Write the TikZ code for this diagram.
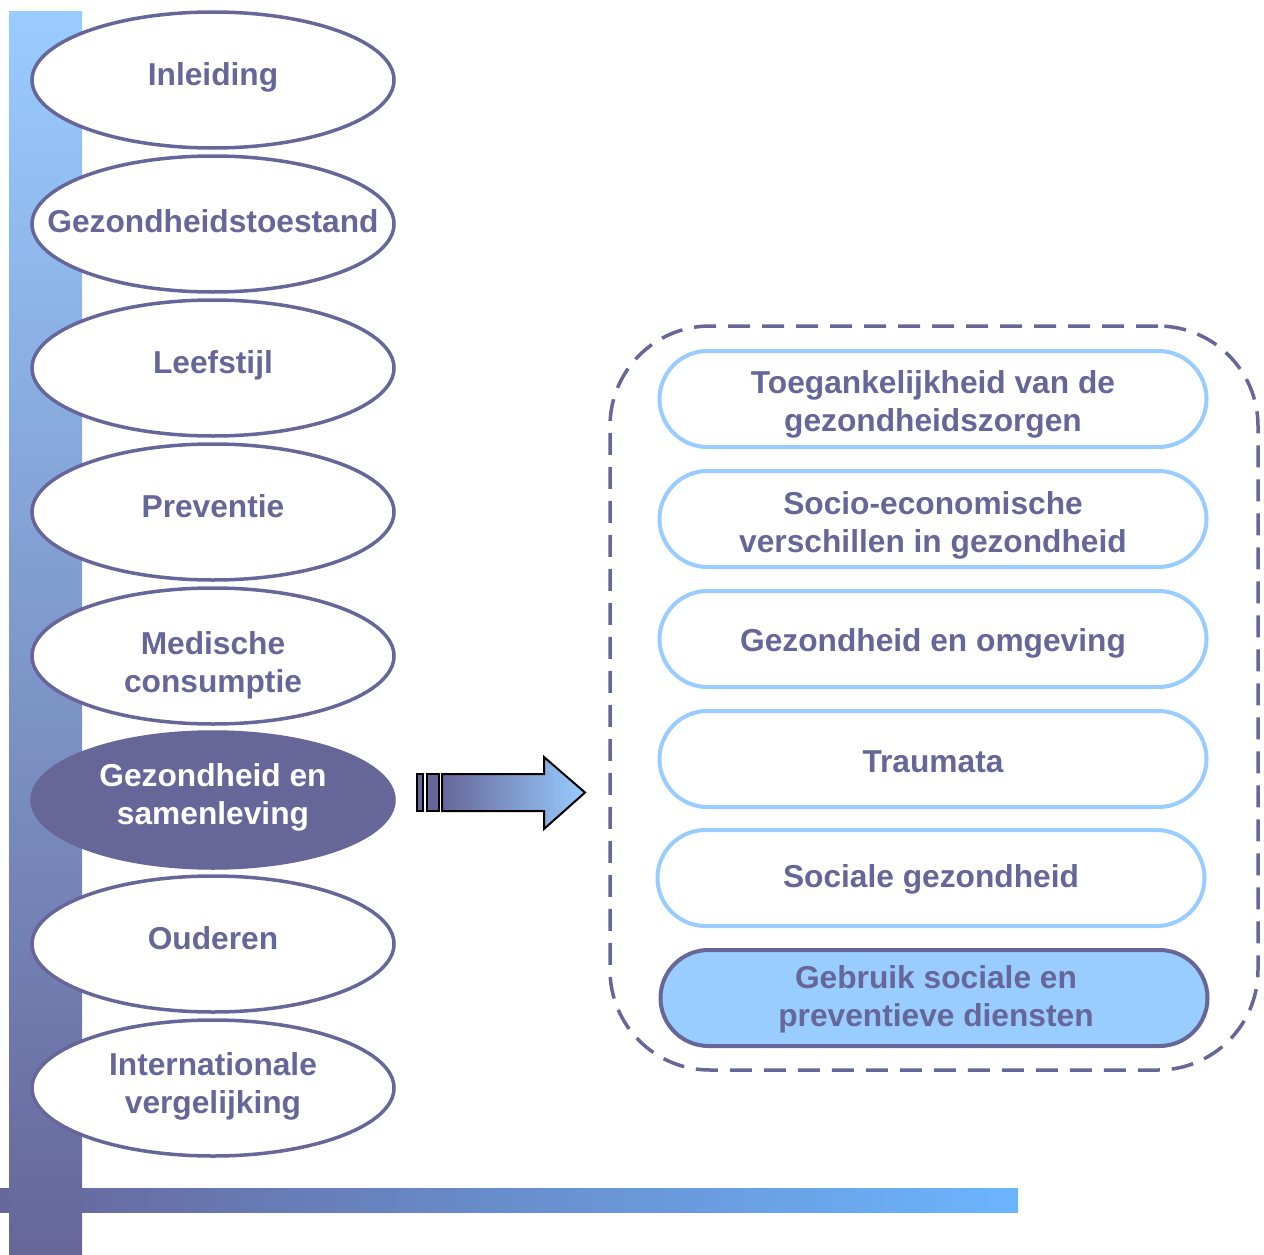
\documentclass[tikz,border=0pt]{standalone}
\usepackage{fontspec}
\setmainfont{Liberation Sans}
\usetikzlibrary{shapes.geometric}
\definecolor{navy}{HTML}{666699}
\definecolor{sky}{HTML}{99CCFF}
\definecolor{skybar}{HTML}{6BB5FF}
\begin{document}
\begin{tikzpicture}[x=1pt,y=-1pt,
  ell/.style={ellipse, draw=navy, line width=3.5pt, fill=white, minimum width=362pt, minimum height=136pt, inner sep=0pt},
  etxt/.style={text=navy, font=\fontsize{31.7}{38}\selectfont\bfseries, align=center, inner sep=0pt},
  pill/.style={rectangle, rounded corners=48pt, draw=sky, line width=4pt, fill=white, minimum width=547pt, minimum height=96pt, inner sep=0pt},
  frame/.style={rectangle, rounded corners=100pt, draw=navy, line width=3.5pt, dash pattern=on 22pt off 12pt, minimum width=648pt, minimum height=744pt, inner sep=0pt},
  arrowline/.style={draw=black, line width=2pt}
]
\useasboundingbox (0,0) rectangle (1264,1255);
% bars
\shade[left color=navy, right color=skybar] (0,1188) rectangle (1018,1212);
\shade[top color=sky, bottom color=navy] (9,12) rectangle (82,1255);
% left ellipses
\node[ell] (e1) at (213,80) {};
\node[etxt, yshift=3pt] (t1) at (e1) {Inleiding};
\node[ell] (e2) at (213,224) {};
\node[etxt, yshift=3pt] (t2) at (e2) {Gezondheidstoestand};
\node[ell] (e3) at (213,368) {};
\node[etxt, yshift=3pt] (t3) at (e3) {Leefstijl};
\node[ell] (e4) at (213,512) {};
\node[etxt, yshift=6pt] (t4) at (e4) {Preventie};
\node[ell] (e5) at (213,656) {};
\node[etxt, yshift=-9pt] (t5) at (e5) {Medische\\consumptie};
\node[ell, fill=navy] (e6) at (213,800) {};
\node[etxt, text=white, yshift=3pt] (t6) at (e6) {Gezondheid en\\samenleving};
\node[ell] (e7) at (213,944) {};
\node[etxt, yshift=6pt] (t7) at (e7) {Ouderen};
\node[ell] (e8) at (213,1088) {};
\node[etxt, yshift=2pt] (t8) at (e8) {Internationale\\vergelijking};
% arrow
\fill[navy, arrowline] (417,774) rectangle (423,811);
\fill[navy, arrowline] (427,774) rectangle (439,811);
\path[arrowline, left color=navy, right color=sky] (442,774) -- (544,774) -- (544,757) -- (585,792.5) -- (544,829) -- (544,811) -- (442,811) -- cycle;
% right frame
\node[frame] (fr) at (934,698) {};
\node[pill] (p1) at (933,399) {};
\node[etxt, yshift=-5pt] (q1) at (p1) {Toegankelijkheid van de\\gezondheidszorgen};
\node[pill] (p2) at (933,519) {};
\node[etxt, yshift=-6pt] (q2) at (p2) {Socio-economische\\verschillen in gezondheid};
\node[pill] (p3) at (933,639) {};
\node[etxt, yshift=-4pt] (q3) at (p3) {Gezondheid en omgeving};
\node[pill] (p4) at (933,759) {};
\node[etxt, yshift=-3pt] (q4) at (p4) {Traumata};
\node[pill] (p5) at (931,878) {};
\node[etxt, yshift=-1pt] (q5) at (p5) {Sociale gezondheid};
\node[pill, draw=navy, fill=sky] (p6) at (934,998) {};
\node[etxt, xshift=2pt, yshift=-1pt] (q6) at (p6) {Gebruik sociale en\\preventieve diensten};
\end{tikzpicture}
\end{document}
